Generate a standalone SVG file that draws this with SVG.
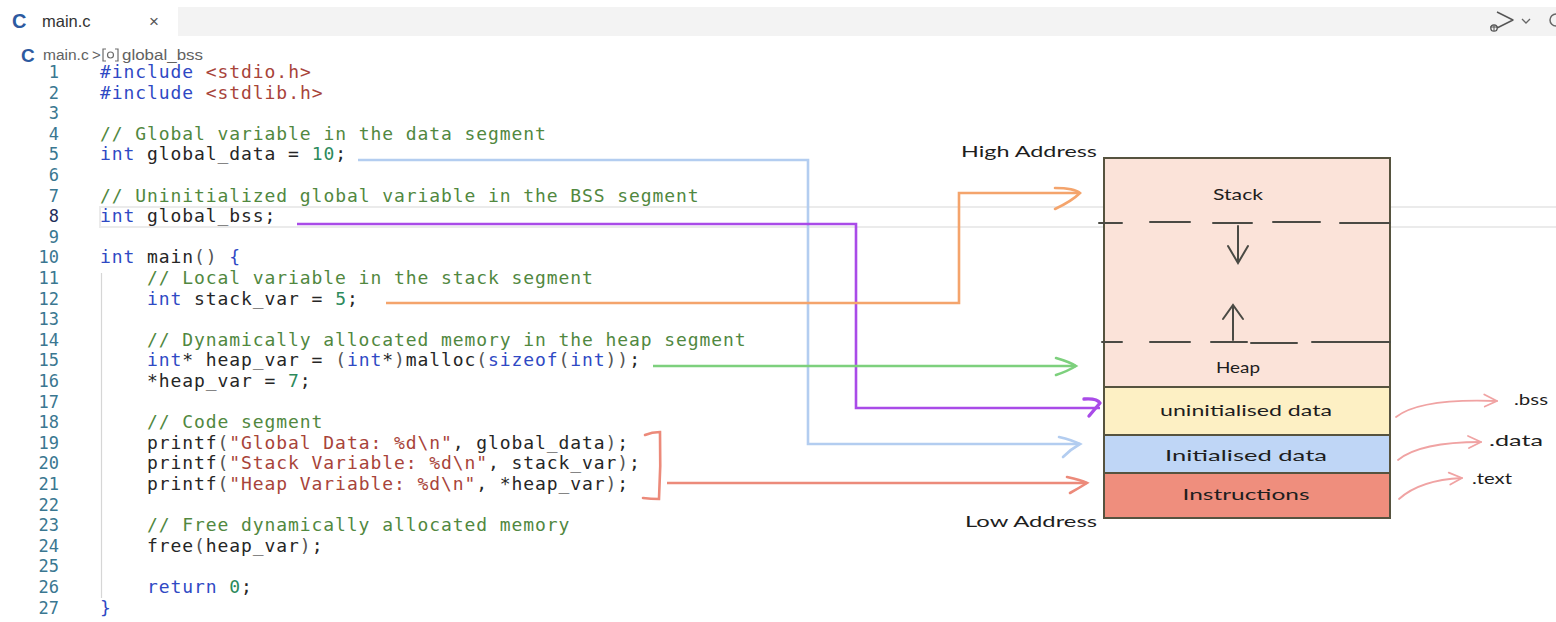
<svg xmlns="http://www.w3.org/2000/svg" width="1556" height="622" viewBox="0 0 1556 622">
  <style>
    .code { font-family: "DejaVu Sans Mono", "Liberation Mono", monospace; font-size: 18px; letter-spacing: 0.92px; }
    .ln { font-family: "DejaVu Sans Mono", "Liberation Mono", monospace; font-size: 17px; fill: #3a7791; text-anchor: end; }
    .kw { fill: #2f49c4; }
    .id { fill: #262626; }
    .cm { fill: #51883f; }
    .num { fill: #2d8a5c; }
    .str { fill: #a8443a; }
    .pn { fill: #555555; }
    .ui { font-family: "Liberation Sans", Arial, sans-serif; }
    .hand { font-family: Lato, "Noto Sans", sans-serif; font-size: 16px; fill: #1e1e1e; text-anchor: middle; }
    .box { stroke: #56533f; stroke-width: 2; fill: none; }
    .ink { stroke: #4a4a44; stroke-width: 2; fill: none; stroke-linecap: round; }
    .conn { fill: none; stroke-width: 2.6; stroke-linejoin: miter; }
    .sec { fill: none; stroke: #f0a3a3; stroke-width: 1.8; stroke-linecap: round; }
  </style>
  <defs>
    <marker id="ahBlue" markerUnits="userSpaceOnUse" orient="auto" refX="0" refY="0" markerWidth="40" markerHeight="40" overflow="visible">
      <path d="M-21,-7 Q-8,-4 0,0 Q-9,5 -17,13" fill="none" stroke="#b3cdf0" stroke-width="2.6" stroke-linecap="round"/>
    </marker>
    <marker id="ahPurple" markerUnits="userSpaceOnUse" orient="auto" refX="0" refY="0" markerWidth="40" markerHeight="40" overflow="visible">
      <path d="M-16,-9 Q-3,-10 0,-5 L-11,8" fill="none" stroke="#a94be8" stroke-width="3.4" stroke-linecap="round" stroke-linejoin="round"/>
    </marker>
    <marker id="ahOrange" markerUnits="userSpaceOnUse" orient="auto" refX="0" refY="0" markerWidth="40" markerHeight="40" overflow="visible">
      <path d="M-25,-5 Q-6,-5 0,0 Q-8,8 -25,16" fill="none" stroke="#f4a46c" stroke-width="2.6" stroke-linecap="round"/>
    </marker>
    <marker id="ahGreen" markerUnits="userSpaceOnUse" orient="auto" refX="0" refY="0" markerWidth="40" markerHeight="40" overflow="visible">
      <path d="M-20,-8 Q-6,-4 0,0 Q-8,5 -20,9" fill="none" stroke="#7dd07d" stroke-width="2.6" stroke-linecap="round"/>
    </marker>
    <marker id="ahRed" markerUnits="userSpaceOnUse" orient="auto" refX="0" refY="0" markerWidth="40" markerHeight="40" overflow="visible">
      <path d="M-20,-6 Q-6,-3 0,0 Q-8,5 -17,10" fill="none" stroke="#ec8a7a" stroke-width="2.6" stroke-linecap="round"/>
    </marker>
    <marker id="ahPink" markerUnits="userSpaceOnUse" orient="auto" refX="0" refY="0" markerWidth="30" markerHeight="30" overflow="visible">
      <path d="M-13,-6 L0,0 L-12,6" fill="none" stroke="#f0a3a3" stroke-width="1.8" stroke-linecap="round" stroke-linejoin="round"/>
    </marker>
  </defs>

  <rect width="1556" height="622" fill="#ffffff"/>

  <!-- editor tab strip -->
  <g id="tabbar">
    <rect x="178" y="7" width="1378" height="29" fill="#f3f3f3"/>
    <text class="ui" x="12" y="28" font-size="20" font-weight="bold" fill="#2d5aa0">C</text>
    <text class="ui" x="42" y="27" font-size="16.5" fill="#333333">main.c</text>
    <text class="ui" x="149" y="27" font-size="17" fill="#555555">×</text>
    <!-- run / debug button -->
    <path d="M1497,12 L1513,20 L1497,28" fill="none" stroke="#555" stroke-width="1.4" stroke-linejoin="round"/>
    <circle cx="1494" cy="28" r="3.2" fill="none" stroke="#555" stroke-width="1.3"/>
    <path d="M1490,27 h8 M1494,25 v6" stroke="#555" stroke-width="1"/>
    <path d="M1522,19 l4,4 l4,-4" fill="none" stroke="#666" stroke-width="1.3"/>
    <circle cx="1556" cy="20" r="6" fill="none" stroke="#666" stroke-width="1.5"/>
  </g>

  <!-- breadcrumb -->
  <g id="breadcrumb">
    <text class="ui" x="21" y="62" font-size="19" font-weight="bold" fill="#2d5aa0">C</text>
    <text class="ui" x="43" y="60" font-size="15.5" fill="#616161">main.c</text>
    <text class="ui" x="92" y="60" font-size="15" fill="#616161">&gt;</text>
    <path d="M106,49 h-3 v12 h3 M115,49 h3 v12 h-3" fill="none" stroke="#6c6c6c" stroke-width="1.2"/>
    <circle cx="110.5" cy="55" r="3" fill="none" stroke="#6c6c6c" stroke-width="1.2"/>
    <text class="ui" x="122" y="60" font-size="15.5" fill="#616161" textLength="81" lengthAdjust="spacingAndGlyphs">global_bss</text>
  </g>

  <!-- current line highlight and indent guide -->
  <rect x="100" y="207" width="1470" height="20" fill="none" stroke="#ebebeb" stroke-width="2"/>
  <line x1="101.5" y1="273" x2="101.5" y2="598" stroke="#d6d6d6" stroke-width="1.2"/>

  <!-- line numbers -->
  <g id="gutter">
    <text class="ln" x="59" y="78">1</text>
    <text class="ln" x="59" y="98.6">2</text>
    <text class="ln" x="59" y="119.2">3</text>
    <text class="ln" x="59" y="139.8">4</text>
    <text class="ln" x="59" y="160.4">5</text>
    <text class="ln" x="59" y="181">6</text>
    <text class="ln" x="59" y="201.6">7</text>
    <text class="ln" x="59" y="222.2" style="fill:#1f2d5a">8</text>
    <text class="ln" x="59" y="242.8">9</text>
    <text class="ln" x="59" y="263.4">10</text>
    <text class="ln" x="59" y="284">11</text>
    <text class="ln" x="59" y="304.6">12</text>
    <text class="ln" x="59" y="325.2">13</text>
    <text class="ln" x="59" y="345.8">14</text>
    <text class="ln" x="59" y="366.4">15</text>
    <text class="ln" x="59" y="387">16</text>
    <text class="ln" x="59" y="407.6">17</text>
    <text class="ln" x="59" y="428.2">18</text>
    <text class="ln" x="59" y="448.8">19</text>
    <text class="ln" x="59" y="469.4">20</text>
    <text class="ln" x="59" y="490">21</text>
    <text class="ln" x="59" y="510.6">22</text>
    <text class="ln" x="59" y="531.2">23</text>
    <text class="ln" x="59" y="551.8">24</text>
    <text class="ln" x="59" y="572.4">25</text>
    <text class="ln" x="59" y="593">26</text>
    <text class="ln" x="59" y="613.6">27</text>
  </g>

  <!-- source code -->
  <g id="source" class="code" xml:space="preserve">
    <text x="100" y="78"><tspan class="kw">#include</tspan><tspan class="id"> </tspan><tspan class="str">&lt;stdio.h&gt;</tspan></text>
    <text x="100" y="98.6"><tspan class="kw">#include</tspan><tspan class="id"> </tspan><tspan class="str">&lt;stdlib.h&gt;</tspan></text>
    <text x="100" y="139.8" class="cm">// Global variable in the data segment</text>
    <text x="100" y="160.4"><tspan class="kw">int</tspan><tspan class="id"> global_data = </tspan><tspan class="num">10</tspan><tspan class="id">;</tspan></text>
    <text x="100" y="201.6" class="cm">// Uninitialized global variable in the BSS segment</text>
    <text x="100" y="222.2"><tspan class="kw">int</tspan><tspan class="id"> global_bss;</tspan></text>
    <text x="100" y="263.4"><tspan class="kw">int</tspan><tspan class="id"> main</tspan><tspan class="pn">()</tspan><tspan class="id"> </tspan><tspan class="kw">{</tspan></text>
    <text x="147" y="284" class="cm">// Local variable in the stack segment</text>
    <text x="147" y="304.6"><tspan class="kw">int</tspan><tspan class="id"> stack_var = </tspan><tspan class="num">5</tspan><tspan class="id">;</tspan></text>
    <text x="147" y="345.8" class="cm">// Dynamically allocated memory in the heap segment</text>
    <text x="147" y="366.4"><tspan class="kw">int</tspan><tspan class="id">* heap_var = </tspan><tspan class="pn">(</tspan><tspan class="kw">int</tspan><tspan class="id">*</tspan><tspan class="pn">)</tspan><tspan class="id">malloc</tspan><tspan class="pn">(</tspan><tspan class="kw">sizeof</tspan><tspan class="pn">(</tspan><tspan class="kw">int</tspan><tspan class="pn">))</tspan><tspan class="id">;</tspan></text>
    <text x="147" y="387"><tspan class="id">*heap_var = </tspan><tspan class="num">7</tspan><tspan class="id">;</tspan></text>
    <text x="147" y="428.2" class="cm">// Code segment</text>
    <text x="147" y="448.8"><tspan class="id">printf</tspan><tspan class="pn">(</tspan><tspan class="str">"Global Data: %d\n"</tspan><tspan class="id">, global_data</tspan><tspan class="pn">)</tspan><tspan class="id">;</tspan></text>
    <text x="147" y="469.4"><tspan class="id">printf</tspan><tspan class="pn">(</tspan><tspan class="str">"Stack Variable: %d\n"</tspan><tspan class="id">, stack_var</tspan><tspan class="pn">)</tspan><tspan class="id">;</tspan></text>
    <text x="147" y="490"><tspan class="id">printf</tspan><tspan class="pn">(</tspan><tspan class="str">"Heap Variable: %d\n"</tspan><tspan class="id">, *heap_var</tspan><tspan class="pn">)</tspan><tspan class="id">;</tspan></text>
    <text x="147" y="531.2" class="cm">// Free dynamically allocated memory</text>
    <text x="147" y="551.8"><tspan class="id">free</tspan><tspan class="pn">(</tspan><tspan class="id">heap_var</tspan><tspan class="pn">)</tspan><tspan class="id">;</tspan></text>
    <text x="147" y="593"><tspan class="kw">return</tspan><tspan class="id"> </tspan><tspan class="num">0</tspan><tspan class="id">;</tspan></text>
    <text x="100" y="613.6" class="kw">}</text>
  </g>

  <!-- connectors from code to memory segments -->
  <g id="connectors">
    <path class="conn" d="M358,160 H808 V444 H1080" stroke="#b3cdf0" marker-end="url(#ahBlue)"/>
    <path class="conn" d="M297,224 H856 V408 H1100" stroke="#a94be8" stroke-width="3.4" marker-end="url(#ahPurple)"/>
    <path class="conn" d="M386,303 H959 V193 H1080" stroke="#f4a46c" marker-end="url(#ahOrange)"/>
    <path class="conn" d="M653,366 H1076" stroke="#7dd07d" marker-end="url(#ahGreen)"/>
    <path class="conn" d="M645,435 Q652,432 660,432 Q661,466 659,499 Q651,499 643,498" stroke="#ec8a7a" stroke-linecap="round" stroke-linejoin="round"/>
    <path class="conn" d="M667,483 H1087" stroke="#ec8a7a" marker-end="url(#ahRed)"/>
    <path class="sec" d="M1396,417 Q1420,398 1497,401" marker-end="url(#ahPink)"/>
    <path class="sec" d="M1398,460 Q1420,442 1481,442" marker-end="url(#ahPink)"/>
    <path class="sec" d="M1399,499 Q1420,480 1462,478" marker-end="url(#ahPink)"/>
  </g>

  <!-- process memory layout -->
  <g id="memory">
    <rect x="1104" y="158" width="286" height="229" fill="#fbe3d9"/>
    <rect x="1104" y="387" width="286" height="48" fill="#fdf0c4"/>
    <rect x="1104" y="435" width="286" height="38" fill="#bfd6f6"/>
    <rect x="1104" y="473" width="286" height="45" fill="#ef8e7d"/>
    <rect class="box" x="1104" y="158" width="286" height="360"/>
    <path class="box" d="M1104,387 H1390 M1104,435 H1390 M1104,473 H1390"/>
    <!-- stack / heap growth boundaries -->
    <path class="ink" d="M1099,223 H1122 M1150,222 H1190 M1213,223 H1252 M1273,222 H1320 M1340,223 H1390"/>
    <path class="ink" d="M1102,342 H1122 M1150,342 H1190 M1211,342 H1247 M1251,343 H1297 M1312,342 H1390"/>
    <path class="ink" d="M1238,226 V262 M1228,246 L1238,263 L1248,246"/>
    <path class="ink" d="M1233,340 V306 M1223,319 L1233,305 L1243,319"/>
  </g>

  <g id="labels">
    <text class="hand" x="1029" y="157" textLength="136" lengthAdjust="spacingAndGlyphs">High Address</text>
    <text class="hand" x="1031" y="527" textLength="132" lengthAdjust="spacingAndGlyphs">Low Address</text>
    <text class="hand" x="1238" y="200" textLength="50" lengthAdjust="spacingAndGlyphs">Stack</text>
    <text class="hand" x="1238" y="373" textLength="44" lengthAdjust="spacingAndGlyphs">Heap</text>
    <text class="hand" x="1246" y="416" textLength="172" lengthAdjust="spacingAndGlyphs">uninitialised data</text>
    <text class="hand" x="1246" y="461" textLength="162" lengthAdjust="spacingAndGlyphs">Initialised data</text>
    <text class="hand" x="1246" y="500" textLength="127" lengthAdjust="spacingAndGlyphs">Instructions</text>
    <text class="hand" x="1531" y="405" textLength="34" lengthAdjust="spacingAndGlyphs">.bss</text>
    <text class="hand" x="1516" y="446" textLength="54" lengthAdjust="spacingAndGlyphs">.data</text>
    <text class="hand" x="1492" y="484" textLength="40" lengthAdjust="spacingAndGlyphs">.text</text>
  </g>
</svg>
